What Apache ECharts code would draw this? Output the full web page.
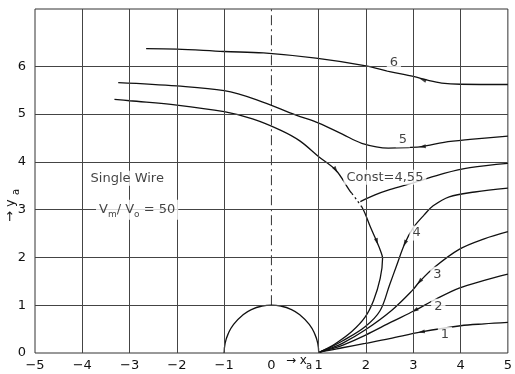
<!DOCTYPE html>
<html>
<head>
<meta charset="utf-8">
<script src="https://cdn.jsdelivr.net/npm/echarts@6/dist/echarts.min.js"></script>
<style>
html,body{margin:0;padding:0;background:#fff;}
#chart{width:515px;height:374px;}
</style>
</head>
<body>
<div id="chart"></div>
<script>
// trajectories (x_a, y_a)
var curve6X = [-2.65, -2, -1, -0.17, 0.94, 2, 2.5, 3, 3.3, 3.6, 4, 5];
var curve6Y = [6.37, 6.36, 6.31, 6.28, 6.17, 6.01, 5.89, 5.79, 5.71, 5.65, 5.625, 5.62];

var curve5X = [-3.24, -2, -1, -0.31, 0.52, 1.0, 1.5, 1.91, 2.47, 2.89, 3.19, 3.65, 4.2, 5];
var curve5Y = [5.66, 5.59, 5.49, 5.3, 4.98, 4.81, 4.58, 4.39, 4.29, 4.3, 4.32, 4.41, 4.47, 4.54];

var sepUpperX = [-3.32, -3, -2, -1, -0.4, 0.2, 0.6, 1.0, 1.36, 1.64, 1.7];
var sepUpperY = [5.31, 5.28, 5.19, 5.05, 4.9, 4.66, 4.44, 4.11, 3.83, 3.42, 3.34];
var sepDotX = [1.7, 1.8, 1.91];
var sepDotY = [3.34, 3.21, 3.06];
var sepLowerX = [1.91, 1.98, 2.1, 2.23, 2.31, 2.35, 2.3, 2.16, 1.98, 1.7, 1.36, 1.15, 1.02];
var sepLowerY = [3.06, 2.92, 2.62, 2.33, 2.13, 1.98, 1.56, 1.1, 0.75, 0.45, 0.2, 0.08, 0.02];

var constX = [1.88, 2.19, 2.5, 3.03, 3.65, 4.2, 5];
var constY = [3.17, 3.31, 3.42, 3.57, 3.76, 3.88, 3.97];

var curve4X = [1.02, 1.25, 1.5, 1.98, 2.3, 2.5, 2.64, 2.82, 2.99, 3.23, 3.42, 3.76, 4.3, 5];
var curve4Y = [0.02, 0.12, 0.25, 0.55, 0.89, 1.43, 1.81, 2.29, 2.61, 2.89, 3.08, 3.27, 3.37, 3.45];

var curve3X = [1.02, 1.25, 1.5, 1.98, 2.54, 2.98, 3.13, 3.44, 3.97, 4.5, 5];
var curve3Y = [0.02, 0.1, 0.2, 0.48, 0.89, 1.31, 1.49, 1.79, 2.17, 2.39, 2.54];

var curve2X = [1.02, 1.25, 1.5, 1.98, 2.54, 3.03, 3.48, 3.97, 4.5, 5];
var curve2Y = [0.02, 0.08, 0.16, 0.37, 0.65, 0.89, 1.13, 1.36, 1.52, 1.65];

var curve1X = [1.02, 1.25, 1.5, 1.98, 2.5, 3.17, 4, 4.5, 5];
var curve1Y = [0.02, 0.06, 0.11, 0.2, 0.3, 0.44, 0.57, 0.61, 0.64];

// wire cross-section
var wireX = [-1, -0.98, -0.92, -0.8, -0.6, -0.4, -0.2, 0, 0.2, 0.4, 0.6, 0.8, 0.92, 0.98, 1];
var wireY = [0, 0.2, 0.39, 0.6, 0.8, 0.92, 0.98, 1, 0.98, 0.92, 0.8, 0.6, 0.39, 0.2, 0];

// symmetry axis above the wire
var axisX = [0, 0];
var axisY = [1, 7.2];

// arrow heads on the trajectories
var arrowX = [3.2, 3.19, 1.36, 2.23, 2.82, 3.13, 3.03, 3.17];
var arrowY = [5.72, 4.32, 3.83, 2.33, 2.29, 1.49, 0.89, 0.44];
var arrowRot = [70, 96, 212, 197, 155, 140, 118, 100];

// annotations
var noteText = ['Single Wire', '{v|V}{s|m}{v|/ V}{s|o}{v| = 50}', 'Const=4,55', '6', '5', '4', '3', '2', '1'];
var noteX = [-3.05, -2.84, 2.4, 2.59, 2.78, 3.07, 3.51, 3.53, 3.67];
var noteY = [3.66, 3.0, 3.68, 6.07, 4.46, 2.51, 1.65, 0.98, 0.39];

var gridX = [-4, -3, -2, -1, 1, 2, 3, 4];
var gridY = [1, 2, 3, 4, 5, 6];

function pairs(xs, ys) {
	var out = [];
	for (var i = 0; i < xs.length; i++) out.push([xs[i], ys[i]]);
	return out;
}

function curve(xs, ys, extra) {
	var s = {
		type: 'line',
		data: pairs(xs, ys),
		smooth: 0.35,
		symbol: 'none',
		silent: true,
		z: 3,
		lineStyle: {color: '#111', width: 1.3}
	};
	for (var k in extra) s[k] = extra[k];
	return s;
}

var font = 'DejaVu Sans';
var myChart = echarts.init(document.getElementById('chart'));

var gridLines = [];
for (var i = 0; i < gridX.length; i++) gridLines.push({xAxis: gridX[i]});
for (var j = 0; j < gridY.length; j++) gridLines.push({yAxis: gridY[j]});

var arrows = [];
for (var a = 0; a < arrowX.length; a++) {
	arrows.push({value: [arrowX[a], arrowY[a]], symbolRotate: arrowRot[a]});
}

var notes = [];
for (var n = 0; n < noteText.length; n++) {
	notes.push({value: [noteX[n], noteY[n]], name: noteText[n]});
}

var option = {
	animation: false,
	backgroundColor: '#fff',
	grid: {left: 35, right: 1, top: 9, bottom: 21, show: true, borderColor: '#333', borderWidth: 1},
	xAxis: {
		type: 'value', min: -5, max: 5, interval: 1,
		axisLine: {show: false},
		axisTick: {show: false},
		splitLine: {show: false},
		axisLabel: {
			color: '#111', fontFamily: font, fontSize: 13, margin: 6,
			formatter: function (v) { return v < 0 ? '\u2212' + (-v) : '' + v; }
		}
	},
	yAxis: {
		type: 'value', min: 0, max: 7.2, interval: 1,
		axisLine: {show: false},
		axisTick: {show: false},
		splitLine: {show: false},
		axisLabel: {
			color: '#111', fontFamily: font, fontSize: 13, margin: 9,
			formatter: function (v) { return (v <= 6 && v === Math.round(v)) ? '' + v : ''; }
		}
	},
	series: [
		{
			type: 'line', data: pairs(wireX, wireY), smooth: 0.5, symbol: 'none', silent: true, z: 3,
			lineStyle: {color: '#111', width: 1.3},
			markLine: {
				silent: true, symbol: 'none', animation: false,
				label: {show: false},
				lineStyle: {color: '#444', width: 1, type: 'solid'},
				data: gridLines
			}
		},
		{
			type: 'line', data: pairs(axisX, axisY), symbol: 'none', silent: true, z: 2,
			lineStyle: {color: '#333', width: 1, type: [10, 4, 2, 4]}
		},
		curve(curve6X, curve6Y),
		curve(curve5X, curve5Y),
		curve(sepUpperX, sepUpperY),
		curve(sepDotX, sepDotY, {lineStyle: {color: '#111', width: 1.3, type: [2, 3]}}),
		curve(sepLowerX, sepLowerY),
		curve(constX, constY),
		curve(curve4X, curve4Y),
		curve(curve3X, curve3Y),
		curve(curve2X, curve2Y),
		curve(curve1X, curve1Y),
		{
			type: 'scatter', data: arrows, symbol: 'triangle', symbolSize: [4, 7], silent: true, z: 4,
			itemStyle: {color: '#111'}
		},
		{
			type: 'scatter', data: notes, symbolSize: 0, silent: true, z: 6,
			label: {
				show: true, position: 'inside', color: '#111', fontFamily: font, fontSize: 13,
				backgroundColor: '#fff', padding: [1, 3],
				formatter: function (p) { return p.name; },
				rich: {
					v: {fontFamily: font, fontSize: 13, color: '#111', lineHeight: 18, verticalAlign: 'middle'},
					s: {fontFamily: font, fontSize: 9, color: '#111', lineHeight: 18, verticalAlign: 'bottom'}
				}
			}
		}
	],
	graphic: [
		{type: 'text', left: 286, top: 355, style: {text: '\u2192 x', font: '12px "DejaVu Sans"', fill: '#111'}},
		{type: 'text', left: 306, top: 361, style: {text: 'a', font: '10px "DejaVu Sans"', fill: '#111'}},
		{type: 'text', x: 4, y: 222, rotation: Math.PI / 2, style: {text: '\u2192 y', font: '13px "DejaVu Sans"', fill: '#111'}},
		{type: 'text', x: 11, y: 195, rotation: Math.PI / 2, style: {text: 'a', font: '10px "DejaVu Sans"', fill: '#111'}}
	]
};
myChart.setOption(option);
</script>
</body>
</html>
